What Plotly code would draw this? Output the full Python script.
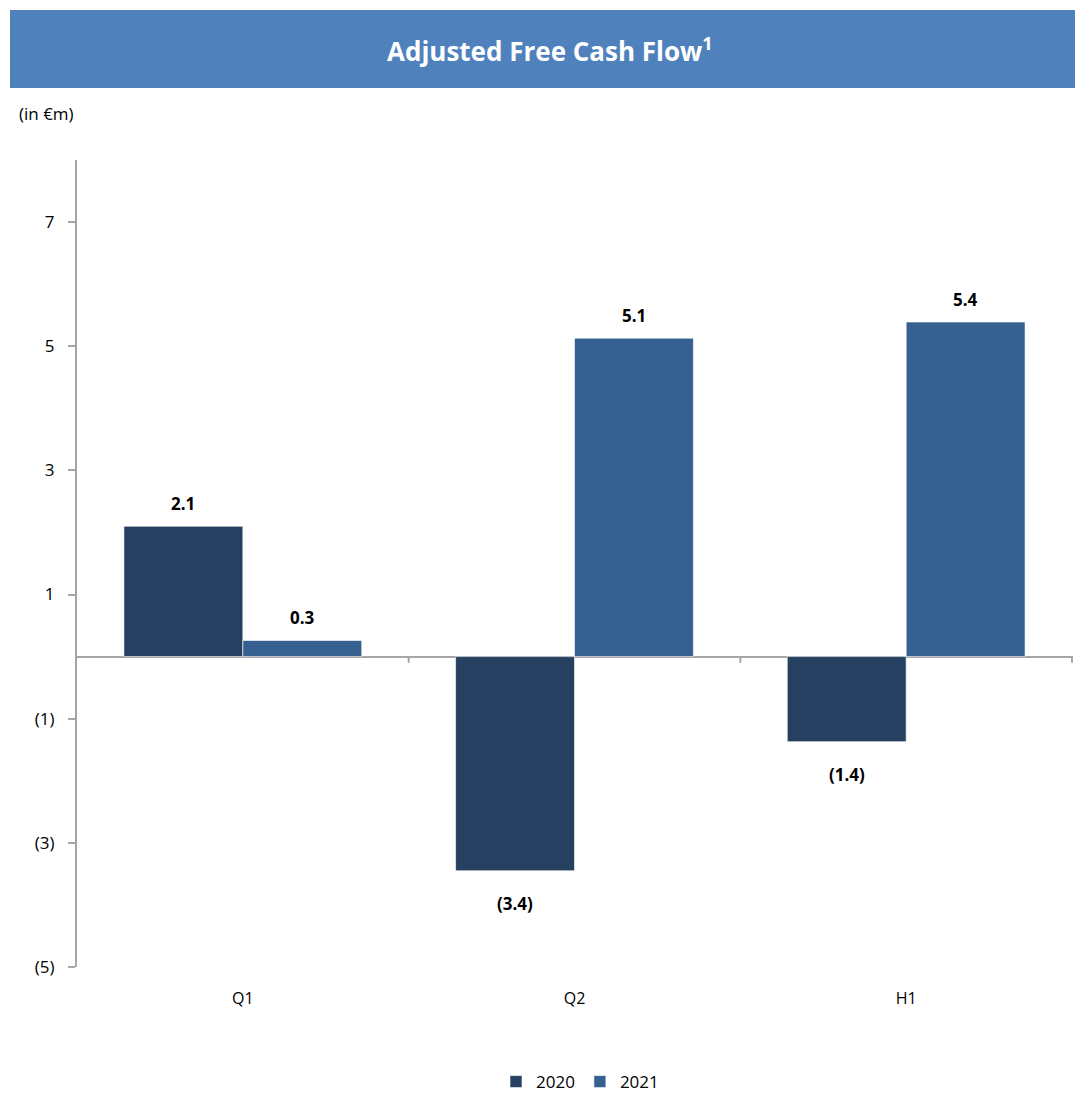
import plotly.graph_objects as go

categories = ["Q1", "Q2", "H1"]
values_2020 = [2.1, -3.45, -1.37]
values_2021 = [0.26, 5.13, 5.39]
labels_2020 = ["2.1", "(3.4)", "(1.4)"]
labels_2021 = ["0.3", "5.1", "5.4"]
y_tickvals = [7, 5, 3, 1, -1, -3, -5]
y_ticktext = ["7", "5", "3", "1", "(1)", "(3)", "(5)"]

W, H = 1075, 1094
L, R, T, B = 77, 2, 160, 127
pw, ph = W - L - R, H - T - B

def px_x(p):
    return (p - L) / pw

def px_y(p):
    return (H - B - p) / ph

C2020 = "#264061"
C2021 = "#376092"
GRID = "#a6a6a6"
FONT = "Open Sans, Noto Sans, sans-serif"

fig = go.Figure()
fig.add_trace(go.Bar(name="2020", x=categories, y=values_2020, marker_color=C2020,
                     marker_line=dict(color="rgba(255,255,255,0.6)", width=1)))
fig.add_trace(go.Bar(name="2021", x=categories, y=values_2021, marker_color=C2021,
                     marker_line=dict(color="rgba(255,255,255,0.6)", width=1)))

bar_px = 119
for vals, labs, shift in ((values_2020, labels_2020, -bar_px / 2), (values_2021, labels_2021, bar_px / 2)):
    for c, v, t in zip(categories, vals, labs):
        fig.add_annotation(x=c, y=v, text=f"<b>{t}</b>", showarrow=False,
                           xshift=shift, yshift=23 if v >= 0 else -33,
                           font=dict(size=17, color="#000000", family=FONT))

# category boundary ticks on zero line
for b in (0.5, 1.5, 2.5):
    fig.add_shape(type="line", xref="x", yref="y", x0=b, x1=b, y0=0, y1=-0.1,
                  line=dict(color=GRID, width=2))

# title band
fig.add_shape(type="rect", xref="paper", yref="paper",
              x0=px_x(10), x1=px_x(1075), y0=px_y(88), y1=px_y(10),
              fillcolor="#4F81BD", line=dict(width=0), layer="below")
fig.add_annotation(xref="paper", yref="paper", x=px_x(550), y=px_y(50),
                   text="<b>Adjusted Free Cash Flow<sup>1</sup></b>", showarrow=False,
                   font=dict(size=26, color="white", family=FONT), xanchor="center", yanchor="middle")
fig.add_annotation(xref="paper", yref="paper", x=px_x(17), y=px_y(113),
                   text="(in €m)", showarrow=False, xanchor="left", yanchor="middle",
                   font=dict(size=17, color="#000000", family=FONT))

fig.update_layout(
    width=W, height=H,
    margin=dict(l=L, r=R, t=T, b=B, autoexpand=False),
    paper_bgcolor="white", plot_bgcolor="white",
    barmode="group", bargap=0.283, bargroupgap=0,
    font=dict(family=FONT, size=16, color="#000000"),
    showlegend=True,
    legend=dict(orientation="h", x=px_x(580), xanchor="center", y=px_y(1082), yanchor="middle",
                font=dict(size=17), itemwidth=30, traceorder="normal"),
    xaxis=dict(showline=False, showgrid=False, zeroline=False, ticks="", automargin=False,
               ticklabelstandoff=20, tickfont=dict(size=16)),
    yaxis=dict(range=[-5, 8], tickvals=y_tickvals, ticktext=y_ticktext, automargin=False,
               showgrid=False, showline=True, linecolor=GRID, linewidth=2,
               ticks="outside", ticklen=7, tickcolor=GRID, tickwidth=2,
               zeroline=True, zerolinecolor=GRID, zerolinewidth=2,
               ticklabelstandoff=10, tickfont=dict(size=17)),
)

fig.write_html("out.html")
